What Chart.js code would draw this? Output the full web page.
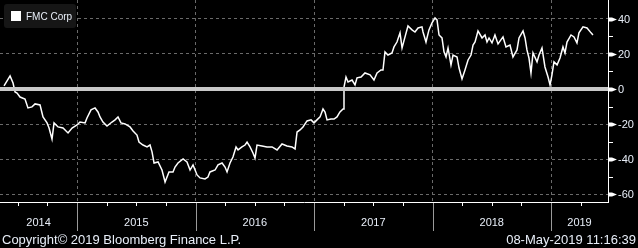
<!DOCTYPE html>
<html>
<head>
<meta charset="utf-8">
<script src="https://cdn.jsdelivr.net/npm/chart.js@4"></script>
<style>
  html, body { margin: 0; padding: 0; background: #000; }
  canvas { display: block; }
</style>
</head>
<body>
<canvas id="myChart" width="638" height="248"></canvas>
<script>
// decimal years
const dates = [
  2014.384, 2014.435, 2014.460, 2014.477, 2014.494, 2014.519, 2014.561, 2014.586, 2014.620, 2014.646,
  2014.688, 2014.713, 2014.747, 2014.764, 2014.789, 2014.806, 2014.840, 2014.882, 2014.924, 2014.958,
  2015.000, 2015.025, 2015.068, 2015.084, 2015.118, 2015.152, 2015.177, 2015.194, 2015.219, 2015.253,
  2015.295, 2015.321, 2015.346, 2015.371, 2015.405, 2015.447, 2015.473, 2015.506, 2015.523, 2015.557,
  2015.591, 2015.616, 2015.633, 2015.650, 2015.684, 2015.717, 2015.743, 2015.776, 2015.810, 2015.827,
  2015.852, 2015.895, 2015.928, 2015.954, 2015.979, 2016.013, 2016.038, 2016.080, 2016.105, 2016.122,
  2016.165, 2016.190, 2016.224, 2016.249, 2016.266, 2016.291, 2016.316, 2016.342, 2016.359, 2016.392,
  2016.418, 2016.435, 2016.460, 2016.485, 2016.502, 2016.519, 2016.561, 2016.603, 2016.646, 2016.688,
  2016.730, 2016.772, 2016.814, 2016.840, 2016.857, 2016.882, 2016.907, 2016.941, 2016.975, 2017.000,
  2017.025, 2017.051, 2017.076, 2017.093, 2017.110, 2017.143, 2017.169, 2017.194, 2017.219, 2017.245,
  2017.253, 2017.270, 2017.287, 2017.321, 2017.346, 2017.363, 2017.397, 2017.430, 2017.473, 2017.506,
  2017.532, 2017.565, 2017.582, 2017.599, 2017.624, 2017.658, 2017.675, 2017.700, 2017.726, 2017.743,
  2017.768, 2017.793, 2017.827, 2017.852, 2017.878, 2017.911, 2017.920, 2017.945, 2017.970, 2017.996,
  2018.021, 2018.038, 2018.055, 2018.080, 2018.097, 2018.114, 2018.131, 2018.156, 2018.173, 2018.207,
  2018.224, 2018.249, 2018.274, 2018.300, 2018.325, 2018.342, 2018.359, 2018.384, 2018.418, 2018.443,
  2018.460, 2018.477, 2018.502, 2018.527, 2018.553, 2018.595, 2018.620, 2018.654, 2018.679, 2018.713,
  2018.730, 2018.764, 2018.781, 2018.797, 2018.814, 2018.831, 2018.848, 2018.882, 2018.899, 2018.924,
  2018.949, 2018.975, 2018.992, 2019.008, 2019.025, 2019.051, 2019.076, 2019.101, 2019.118, 2019.135,
  2019.169, 2019.194, 2019.219, 2019.236, 2019.270, 2019.304, 2019.338, 2019.354
];

// FMC Corp, % change
const fmcCorp = [
  1.7, 7.4, 3.4, -1.7, -2.3, -4.6, -5.7, -10.8, -10.2, -8.5,
  -9.1, -15.9, -19.3, -22.2, -28.5, -19.3, -21.6, -22.2, -25.0, -22.2,
  -20.5, -18.8, -19.3, -16.5, -11.9, -10.8, -13.1, -15.9, -18.8, -21.1,
  -18.8, -17.6, -15.9, -19.3, -19.9, -21.6, -23.9, -26.2, -30.2, -31.9,
  -33.0, -31.9, -35.8, -42.1, -41.5, -46.1, -52.9, -47.2, -47.2, -44.4,
  -42.1, -39.8, -41.5, -46.1, -43.2, -48.9, -50.6, -51.2, -50.1, -47.2,
  -46.1, -43.2, -42.1, -44.4, -47.2, -42.1, -38.7, -33.0, -34.7, -33.0,
  -31.9, -30.2, -33.0, -36.4, -39.3, -31.9, -32.4, -33.0, -33.0, -34.7,
  -31.3, -32.4, -33.0, -34.1, -24.5, -23.3, -21.6, -18.2, -17.6, -19.3,
  -17.6, -15.9, -11.4, -13.1, -17.6, -17.1, -17.1, -15.9, -13.1, -11.4,
  1.1, 6.8, 4.0, 5.1, 2.3, 6.3, 6.8, 9.1, 8.0, 5.1,
  9.1, 10.8, 10.8, 21.1, 19.3, 20.5, 23.9, 26.7, 31.9, 23.3,
  29.6, 35.8, 33.6, 32.4, 34.7, 35.3, 32.4, 26.7, 33.6, 37.6,
  40.4, 39.3, 30.7, 29.0, 21.1, 18.2, 23.3, 13.7, 19.3, 18.2,
  11.9, 5.7, 10.8, 16.5, 19.3, 25.0, 26.7, 33.0, 29.0, 30.7,
  26.7, 29.0, 26.2, 30.7, 25.6, 29.6, 23.9, 25.0, 18.2, 22.2,
  29.0, 33.0, 29.0, 22.2, 17.6, 9.1, 20.5, 15.4, 19.3, 23.3,
  12.5, 6.8, 2.3, 8.0, 15.4, 13.7, 17.6, 23.9, 20.5, 26.7,
  30.7, 29.6, 26.2, 31.9, 35.3, 34.7, 31.9, 30.7
];

const yearLabels = ['2014', '2015', '2016', '2017', '2018', '2019'];
const yearStarts = [2014, 2015, 2016, 2017, 2018, 2019];
const yMajorTicks = [-60, -40, -20, 0, 20, 40];
const yMinorTicks = [-50, -30, -10, 10, 30];
const quarterTicks = [2014.5, 2014.75, 2015.25, 2015.5, 2015.75, 2016.25, 2016.5, 2016.75,
  2017.25, 2017.5, 2017.75, 2018.25, 2018.5, 2018.75, 2019.25];

const seriesName = 'FMC Corp';
const copyrightText = 'Copyright\u00a9 2019 Bloomberg Finance L.P.';
const stampText = '08-May-2019 11:16:39';

const xMin = 2014.35, xMax = 2019.481;
const textColor = '#e8eef8';
const font11 = '11px "Liberation Sans", Arial, sans-serif';

const bbgDecor = {
  id: 'bbgDecor',
  afterDatasetsDraw(chart) {
    const ctx = chart.ctx;
    const area = chart.chartArea;
    const yS = chart.scales.y;
    // zero line sits on top of the series
    const y0 = Math.round(yS.getPixelForValue(0));
    ctx.save();
    ctx.fillStyle = '#c8c8c8';
    ctx.fillRect(area.left, y0 - 2, area.right - area.left, 4);
    ctx.restore();
  },
  afterDraw(chart) {
    const ctx = chart.ctx;
    const area = chart.chartArea;
    const xS = chart.scales.x;
    const yS = chart.scales.y;
    ctx.save();

    // right axis marks
    ctx.fillStyle = '#ffffff';
    ctx.strokeStyle = '#ffffff';
    ctx.lineWidth = 1;
    yMajorTicks.forEach(v => {
      const py = Math.round(yS.getPixelForValue(v)) + 0.5;
      ctx.beginPath();
      ctx.moveTo(area.right, py - 2);
      ctx.lineTo(area.right + 4, py - 2);
      ctx.lineTo(area.right + 9, py);
      ctx.lineTo(area.right + 4, py + 2);
      ctx.lineTo(area.right, py + 2);
      ctx.closePath();
      ctx.fill();
    });
    yMinorTicks.forEach(v => {
      const py = Math.round(yS.getPixelForValue(v)) + 0.5;
      ctx.beginPath();
      ctx.moveTo(area.right, py);
      ctx.lineTo(area.right + 5, py);
      ctx.stroke();
    });
    ctx.font = font11;
    ctx.fillStyle = textColor;
    ctx.textAlign = 'left';
    ctx.textBaseline = 'middle';
    yMajorTicks.forEach(v => {
      ctx.fillText(String(v), area.right + 10, yS.getPixelForValue(v) + 1);
    });

    // bottom axis: quarter ticks, year separators, year labels
    quarterTicks.forEach(t => {
      const px = Math.round(xS.getPixelForValue(t)) + 0.5;
      ctx.beginPath();
      ctx.moveTo(px, area.bottom);
      ctx.lineTo(px, area.bottom + 4);
      ctx.stroke();
    });
    ctx.strokeStyle = '#9a9a9a';
    yearStarts.forEach(t => {
      if (t <= xMin) return;
      const px = Math.round(xS.getPixelForValue(t)) + 0.5;
      ctx.beginPath();
      ctx.moveTo(px, area.bottom + 1);
      ctx.lineTo(px, area.bottom + 29);
      ctx.stroke();
    });
    ctx.textAlign = 'center';
    yearLabels.forEach((lab, i) => {
      const a = Math.max(yearStarts[i], xMin);
      const b = Math.min(yearStarts[i] + 1, xMax);
      const px = (xS.getPixelForValue(a) + xS.getPixelForValue(b)) / 2;
      ctx.fillText(lab, px, area.bottom + 21);
    });

    // legend
    ctx.fillStyle = '#161616';
    ctx.beginPath();
    ctx.roundRect(4, 4, 72, 24, 3);
    ctx.fill();
    ctx.fillStyle = '#ffffff';
    ctx.fillRect(11, 11, 10, 10);
    ctx.fillStyle = textColor;
    ctx.textAlign = 'left';
    ctx.font = '10px "Liberation Sans", Arial, sans-serif';
    ctx.fillText(seriesName, 26, 17);

    // footer
    ctx.font = '13px "Liberation Sans", Arial, sans-serif';
    ctx.fillText(copyrightText, 2, 240);
    ctx.textAlign = 'right';
    ctx.fillText(stampText, 636, 240);
    ctx.restore();
  }
};

new Chart('myChart', {
  type: 'line',
  data: {
    datasets: [{
      label: seriesName,
      data: dates.map((d, i) => ({ x: d, y: fmcCorp[i] })),
      borderColor: '#ffffff',
      borderWidth: 1.5,
      pointRadius: 0,
      tension: 0,
      fill: false
    }]
  },
  options: {
    responsive: false,
    animation: false,
    devicePixelRatio: 1,
    layout: { padding: { left: 0, top: 0, right: 30, bottom: 46 } },
    plugins: { legend: { display: false }, tooltip: { enabled: false } },
    scales: {
      x: {
        type: 'linear',
        min: xMin,
        max: xMax,
        afterBuildTicks: s => { s.ticks = yearStarts.filter(t => t > xMin).map(v => ({ value: v })); },
        grid: { color: '#6a6a6a', lineWidth: 1, drawTicks: false },
        border: { display: true, color: '#ffffff', width: 1, dash: [3, 3] },
        ticks: { display: false }
      },
      y: {
        position: 'right',
        min: -64.3,
        max: 50.6,
        afterBuildTicks: s => { s.ticks = yMajorTicks.map(v => ({ value: v })); },
        grid: { color: '#6a6a6a', lineWidth: 1, drawTicks: false },
        border: { display: true, color: '#ffffff', width: 1, dash: [3, 3] },
        ticks: { display: false }
      }
    }
  },
  plugins: [bbgDecor]
});
</script>
</body>
</html>
